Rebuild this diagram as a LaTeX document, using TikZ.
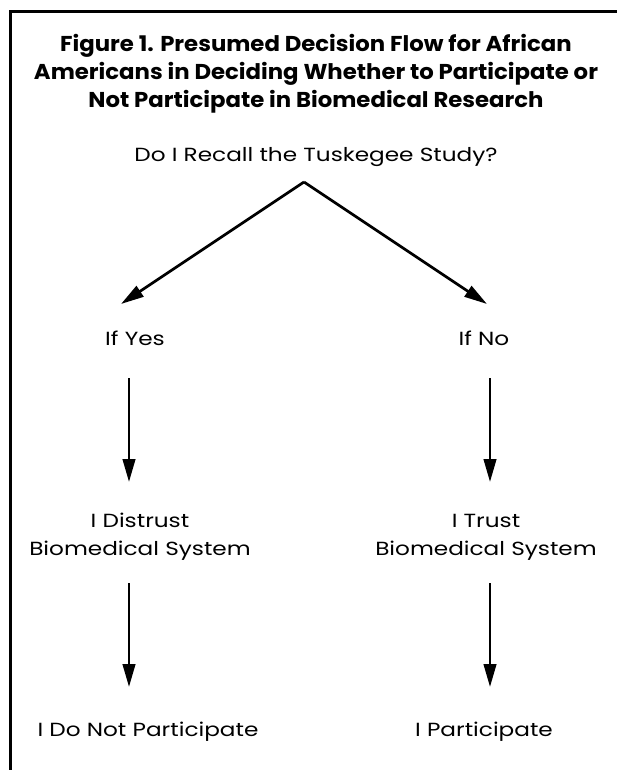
\documentclass[tikz,border=0pt]{standalone}
\usepackage{fontspec}
\setmainfont{Poppins}
\newfontfamily\lblfont[FakeStretch=1.22]{Poppins}
\newfontfamily\ttlfont[FakeStretch=1.06]{Poppins}
\usetikzlibrary{arrows.meta}
\begin{document}
\begin{tikzpicture}[x=1pt,y=-1pt,
  titletext/.style={font=\ttlfont\bfseries\fontsize{21.5}{28}\selectfont, align=center, inner sep=0pt, anchor=base},
  lbl/.style={font=\lblfont\fontsize{19}{28}\selectfont, align=center, inner sep=0pt, anchor=base},
  arr/.style={line width=2.7pt, -{Triangle[length=23pt,width=12.5pt]}},
  framestyle/.style={line width=3pt}]
\useasboundingbox (0,0) rectangle (616,770);
% frame
\coordinate (fr-bl) at (10,771);
\coordinate (fr-tl) at (10,12);
\coordinate (fr-tr) at (617,12);
\draw[framestyle] (fr-bl) -- (fr-tl) -- (fr-tr);
% title (anchor base = baseline of last line)
\node[titletext] (title) at (316,108) {Figure 1. Presumed Decision Flow for African\\Americans in Deciding Whether to Participate or\\Not Participate in Biomedical Research};
% question
\node[lbl] (q) at (316,161) {Do I Recall the Tuskegee Study?};
\coordinate (apex) at (304,182);
\coordinate (tipyes) at (121,304);
\coordinate (tipno) at (487,304);
\draw[arr] (apex) -- (tipyes);
\draw[arr] (apex) -- (tipno);
% answers
\node[lbl] (yes) at (135,345) {If Yes};
\node[lbl] (no) at (484,345) {If No};
\node[lbl] (distrust) at (140,555) {I Distrust\\Biomedical System};
\node[lbl] (trust) at (486,555) {I Trust\\Biomedical System};
\node[lbl] (notpart) at (148,736) {I Do Not Participate};
\node[lbl] (part) at (484,736) {I Participate};
% vertical arrows
\coordinate (y1) at (129,378);
\coordinate (y2) at (129,482);
\coordinate (y3) at (129,583);
\coordinate (y4) at (129,687);
\coordinate (n1) at (490,378);
\coordinate (n2) at (490,482);
\coordinate (n3) at (490,583);
\coordinate (n4) at (490,687);
\draw[arr] (y1) -- (y2);
\draw[arr] (y3) -- (y4);
\draw[arr] (n1) -- (n2);
\draw[arr] (n3) -- (n4);
\end{tikzpicture}
\end{document}
